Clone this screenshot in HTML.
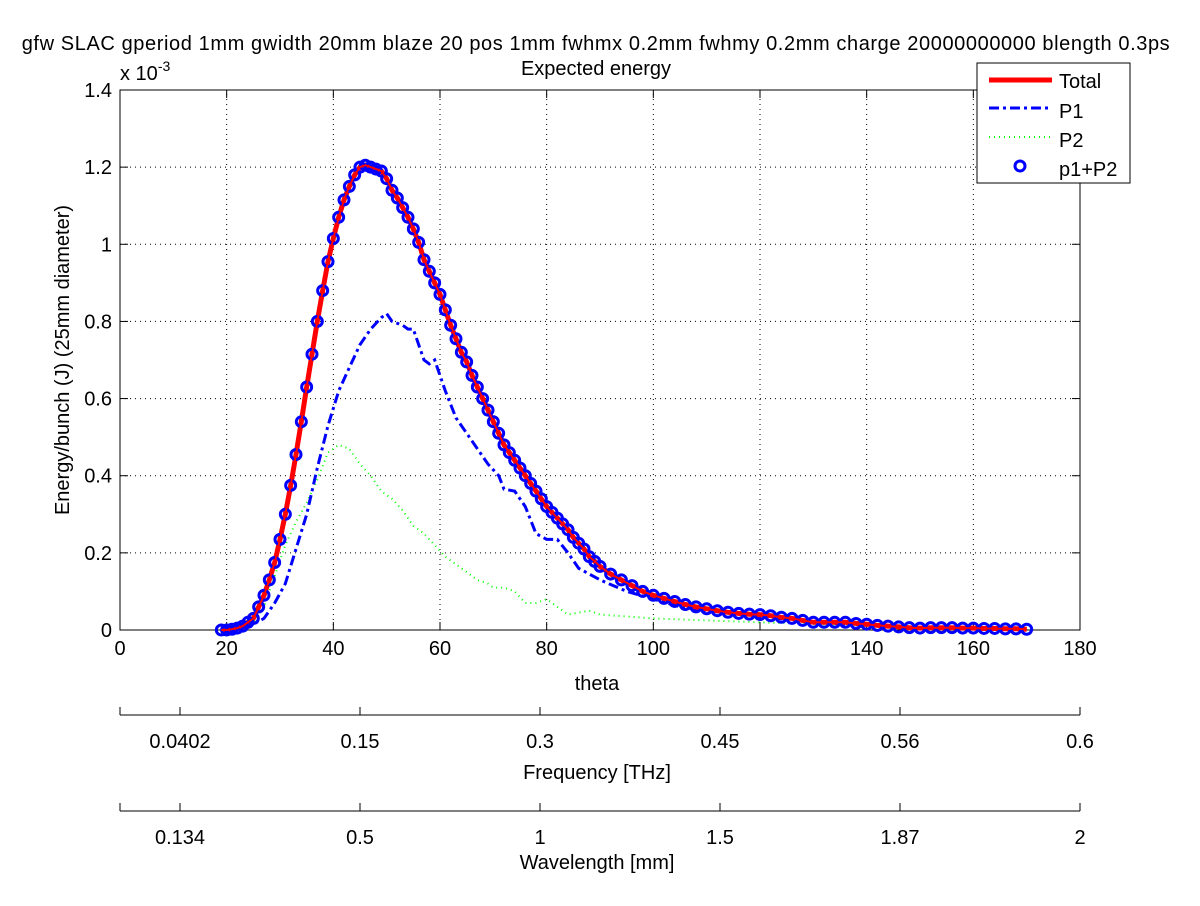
<!DOCTYPE html>
<html><head><meta charset="utf-8"><style>
body{margin:0;background:#fff;}
svg text{font-family:"Liberation Sans",Arial,sans-serif;font-size:20px;fill:#000;}
</style></head><body>
<svg id="chart" width="1200" height="901" viewBox="0 0 1200 901" xmlns="http://www.w3.org/2000/svg">
<rect x="0" y="0" width="1200" height="901" fill="#fff"/>
<g id="grid"></g>
<g id="axes"></g>
<g id="series"></g>
<text x="596" y="50" text-anchor="middle" letter-spacing="0.6">gfw SLAC gperiod 1mm gwidth 20mm blaze 20 pos 1mm fwhmx 0.2mm fwhmy 0.2mm charge 20000000000 blength 0.3ps</text>
<text x="596" y="75" text-anchor="middle">Expected energy</text>
<text x="120" y="80">x 10<tspan dy="-9" font-size="14">-3</tspan></text>
<text transform="translate(69,360) rotate(-90)" text-anchor="middle">Energy/bunch (J)  (25mm diameter)</text>
<text x="597" y="690" text-anchor="middle">theta</text>
<text x="597" y="779" text-anchor="middle">Frequency [THz]</text>
<text x="597" y="869" text-anchor="middle">Wavelength [mm]</text>
<script>
const xTicks=[0,20,40,60,80,100,120,140,160,180];
const yTicks=[0,0.2,0.4,0.6,0.8,1,1.2,1.4];
const yTickLabels=["0","0.2","0.4","0.6","0.8","1","1.2","1.4"];
const freqLabels=["0.0402","0.15","0.3","0.45","0.56","0.6"];
const wlLabels=["0.134","0.5","1","1.5","1.87","2"];
const secTicks=[11.25,45,78.75,112.5,146.25,180];
const totalTheta=[19,20,21,22,23,24,25,26,27,28,29,30,31,32,33,34,35,36,37,38,39,40,41,42,43,44,45,46,47,48,49,50,51,52,53,54,55,56,57,58,59,60,61,62,63,64,65,66,67,68,69,70,71,72,73,74,75,76,77,78,79,80,81,82,83,84,85,86,87,88,89,90,92,94,96,98,100,102,104,106,108,110,112,114,116,118,120,122,124,126,128,130,132,134,136,138,140,142,144,146,148,150,152,154,156,158,160,162,164,166,168,170];
const totalVals=[0,0,0.002,0.005,0.01,0.02,0.03,0.06,0.09,0.13,0.175,0.235,0.3,0.375,0.455,0.54,0.63,0.715,0.8,0.88,0.955,1.015,1.07,1.115,1.15,1.18,1.2,1.205,1.2,1.195,1.19,1.17,1.14,1.12,1.095,1.07,1.04,1.005,0.96,0.93,0.9,0.87,0.83,0.79,0.755,0.72,0.695,0.66,0.63,0.6,0.57,0.54,0.51,0.48,0.46,0.44,0.42,0.4,0.38,0.36,0.34,0.32,0.305,0.29,0.275,0.26,0.24,0.225,0.21,0.19,0.178,0.165,0.145,0.13,0.115,0.1,0.09,0.082,0.074,0.066,0.06,0.055,0.05,0.046,0.043,0.041,0.04,0.037,0.033,0.03,0.025,0.02,0.02,0.02,0.02,0.017,0.015,0.012,0.01,0.008,0.006,0.005,0.006,0.006,0.006,0.005,0.005,0.004,0.004,0.003,0.003,0.002];
const p1Theta=[19,23,25,27,29,31,33,35,37,39,41,43,45,47,49,50,51,53,54,55,57,58,59,61,63,65,67,69,71,72,74,76,78,80,82,84,86,90,95,100,105,110,120,130,140,150,160,170];
const p1Vals=[0,0.005,0.015,0.03,0.07,0.12,0.21,0.3,0.42,0.53,0.62,0.68,0.74,0.78,0.81,0.82,0.8,0.79,0.78,0.78,0.7,0.69,0.7,0.62,0.55,0.51,0.47,0.43,0.4,0.365,0.36,0.32,0.25,0.235,0.235,0.2,0.16,0.13,0.1,0.08,0.06,0.05,0.035,0.02,0.012,0.005,0.004,0.002];
const p2Theta=[19,23,25,27,29,31,33,35,37,39,41,43,45,47,49,51,53,55,57,59,61,63,65,67,69,70,72,74,76,78,80,82,84,86,88,90,95,100,110,120,130,140,150,160,170];
const p2Vals=[0,0.005,0.02,0.06,0.14,0.22,0.28,0.33,0.39,0.46,0.48,0.47,0.43,0.4,0.36,0.34,0.31,0.27,0.25,0.22,0.19,0.17,0.15,0.13,0.12,0.11,0.11,0.1,0.07,0.07,0.08,0.06,0.04,0.045,0.05,0.04,0.035,0.03,0.025,0.02,0.015,0.012,0.008,0.006,0.004];
</script>
<g id="legend">
<rect x="977" y="63" width="153" height="120" fill="#fff" stroke="#000" stroke-width="1"/>
<line x1="989" y1="80" x2="1052" y2="80" stroke="#f00" stroke-width="5"/>
<text x="1059" y="88">Total</text>
<line x1="989" y1="108" x2="1052" y2="108" stroke="#00f" stroke-width="3" stroke-dasharray="10,4,3,4"/>
<text x="1059" y="118">P1</text>
<line x1="989" y1="137" x2="1052" y2="137" stroke="#0f0" stroke-width="2" stroke-dasharray="1,4"/>
<text x="1059" y="147">P2</text>
<circle cx="1020" cy="166" r="5" fill="none" stroke="#00f" stroke-width="3"/>
<text x="1059" y="176">p1+P2</text>
</g>
</svg>
<script>
const NS="http://www.w3.org/2000/svg";
const X0=120,X1=1080,Y0=630,Y1=90;
function xs(t){return X0+(t-0)/(180-0)*(X1-X0);}
function ys(v){return Y0-(v-0)/(1.4-0)*(Y0-Y1);}
function mk(tag,attrs,parent){const e=document.createElementNS(NS,tag);for(const k in attrs)e.setAttribute(k,attrs[k]);parent.appendChild(e);return e;}
const grid=document.getElementById('grid'),axes=document.getElementById('axes'),series=document.getElementById('series');
mk('rect',{x:X0,y:Y1,width:X1-X0,height:Y0-Y1,fill:'none',stroke:'#000','stroke-width':1},axes);
xTicks.forEach(t=>{const x=xs(t);
 if(t>0&&t<180){const g=mk('line',{x1:x,y1:Y0,x2:x,y2:Y1,stroke:'#000','stroke-width':1,'stroke-dasharray':'1,4'},grid);
 
 }
 mk('line',{x1:x,y1:Y0,x2:x,y2:Y0-8,stroke:'#000'},axes);
 mk('line',{x1:x,y1:Y1,x2:x,y2:Y1+8,stroke:'#000'},axes);
 const tx=mk('text',{x:x,y:Y0+25,'text-anchor':'middle'},axes);tx.textContent=t;
 
 
});
yTicks.forEach((v,i)=>{const y=ys(v);
 if(v>0&&v<1.4){const g=mk('line',{x1:X0,y1:y,x2:X1,y2:y,stroke:'#000','stroke-width':1,'stroke-dasharray':'1,4'},grid);
 
 }
 mk('line',{x1:X0,y1:y,x2:X0+8,y2:y,stroke:'#000'},axes);
 mk('line',{x1:X1,y1:y,x2:X1-8,y2:y,stroke:'#000'},axes);
 const tx=mk('text',{x:X0-8,y:y+7,'text-anchor':'end'},axes);tx.textContent=yTickLabels[i];
 
 
});
function secAxis(yl,labels,name){
 mk('line',{x1:X0,y1:yl,x2:X1,y2:yl,stroke:'#000'},axes);
 mk('line',{x1:X0,y1:yl,x2:X0,y2:yl-8,stroke:'#000'},axes);
 secTicks.forEach((t,i)=>{const x=xs(t);
  mk('line',{x1:x,y1:yl,x2:x,y2:yl-8,stroke:'#000'},axes);
  const tx=mk('text',{x:x,y:yl+33,'text-anchor':'middle'},axes);tx.textContent=labels[i];
  
  });
}
secAxis(715,freqLabels,'frequency-tick-label');
secAxis(811,wlLabels,'wavelength-tick-label');
function pts(th,v){return th.map((t,i)=>xs(t).toFixed(1)+','+ys(v[i]).toFixed(1)).join(' ');}
const p2=mk('polyline',{points:pts(p2Theta,p2Vals),fill:'none',stroke:'#0f0','stroke-width':2,'stroke-dasharray':'1,4'},series);


const p1=mk('polyline',{points:pts(p1Theta,p1Vals),fill:'none',stroke:'#00f','stroke-width':3,'stroke-dasharray':'10,4,3,4'},series);


const tot=mk('polyline',{points:pts(totalTheta,totalVals),fill:'none',stroke:'#f00','stroke-width':5},series);


totalTheta.forEach((t,i)=>{const c=mk('circle',{cx:xs(t),cy:ys(totalVals[i]),r:5,fill:'none',stroke:'#00f','stroke-width':3},series);
 
 });
const tot2=mk('polyline',{points:pts(totalTheta,totalVals),fill:'none',stroke:'#f00','stroke-width':2},series);


const legend=document.getElementById('legend');legend.parentNode.appendChild(legend);
</script>
</body></html>
